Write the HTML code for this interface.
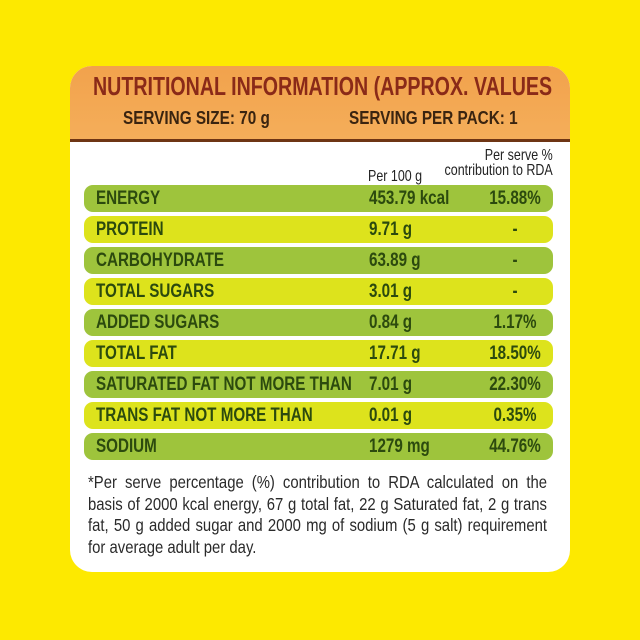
<!DOCTYPE html>
<html><head><meta charset="utf-8"><style>
body{margin:0;width:640px;height:640px;background:#fde900;position:relative;overflow:hidden;font-family:"Liberation Sans",sans-serif}
.card{position:absolute;left:70px;top:66px;width:500px;height:506px;background:#fff;border-radius:22px;overflow:hidden}
.hd{position:absolute;left:0;top:0;width:500px;height:73px;background:linear-gradient(#f2a24c,#f4ae5a);border-bottom:3px solid #6e3514}
.sx{display:inline-block;transform-origin:0 0;white-space:nowrap}
.t{position:absolute;left:23px;top:5px;font-size:26px;font-weight:bold;color:#8a2a18;transform:scaleX(0.755)}
.s{position:absolute;top:42px;font-size:18px;font-weight:bold;color:#3a2410;transform:scaleX(0.85)}
.row{position:absolute;left:14px;width:469px;height:27px;border-radius:9px;font-weight:bold;font-size:19px;color:#2c4a0e;line-height:28px}
.g{background:#9ec43c}.y{background:#dde31c}
.row span{position:absolute;top:0;transform:scaleX(0.8);transform-origin:0 0;white-space:nowrap}
.a{left:12px}.b{left:285px}
.row span.c{left:395px;width:90px;text-align:center;transform-origin:0 0}
.h{position:absolute;font-size:16px;color:#222;line-height:15px;transform:scaleX(0.78);transform-origin:0 0;white-space:nowrap}
.h2{position:absolute;right:17px;top:82px;font-size:16px;color:#222;line-height:15px;transform:scaleX(0.78);transform-origin:100% 0;white-space:nowrap;text-align:right}
.ft{position:absolute;left:18px;top:406px;width:540px;font-size:17.5px;line-height:21.7px;color:#2a2a2a;transform:scaleX(0.85);transform-origin:0 0}
.ft div{text-align:justify;text-align-last:justify;white-space:nowrap}
.ft div.l{text-align-last:left}
</style></head><body>
<div class="card">
<div class="hd">
<div class="t sx">NUTRITIONAL INFORMATION (APPROX. VALUES</div>
<div class="s sx" style="left:53px">SERVING SIZE: 70 g</div>
<div class="s sx" style="left:279px">SERVING PER PACK: 1</div>
</div>
<div class="h" style="left:298px;top:103px">Per 100 g</div>
<div class="h2">Per serve %<br>contribution to RDA</div>
<div class="row g" style="top:119px"><span class="a">ENERGY</span><span class="b">453.79 kcal</span><span class="c">15.88%</span></div>
<div class="row y" style="top:150px"><span class="a">PROTEIN</span><span class="b">9.71 g</span><span class="c">-</span></div>
<div class="row g" style="top:181px"><span class="a">CARBOHYDRATE</span><span class="b">63.89 g</span><span class="c">-</span></div>
<div class="row y" style="top:212px"><span class="a">TOTAL SUGARS</span><span class="b">3.01 g</span><span class="c">-</span></div>
<div class="row g" style="top:243px"><span class="a">ADDED SUGARS</span><span class="b">0.84 g</span><span class="c">1.17%</span></div>
<div class="row y" style="top:274px"><span class="a">TOTAL FAT</span><span class="b">17.71 g</span><span class="c">18.50%</span></div>
<div class="row g" style="top:305px"><span class="a">SATURATED FAT NOT MORE THAN</span><span class="b">7.01 g</span><span class="c">22.30%</span></div>
<div class="row y" style="top:336px"><span class="a">TRANS FAT NOT MORE THAN</span><span class="b">0.01 g</span><span class="c">0.35%</span></div>
<div class="row g" style="top:367px"><span class="a">SODIUM</span><span class="b">1279 mg</span><span class="c">44.76%</span></div>
<div class="ft">
<div>*Per serve percentage (%) contribution to RDA calculated on the</div>
<div>basis of 2000 kcal energy, 67 g total fat, 22 g Saturated fat, 2 g trans</div>
<div>fat, 50 g added sugar and 2000 mg of sodium (5 g salt) requirement</div>
<div class="l">for average adult per day.</div>
</div>
</div>
</body></html>
